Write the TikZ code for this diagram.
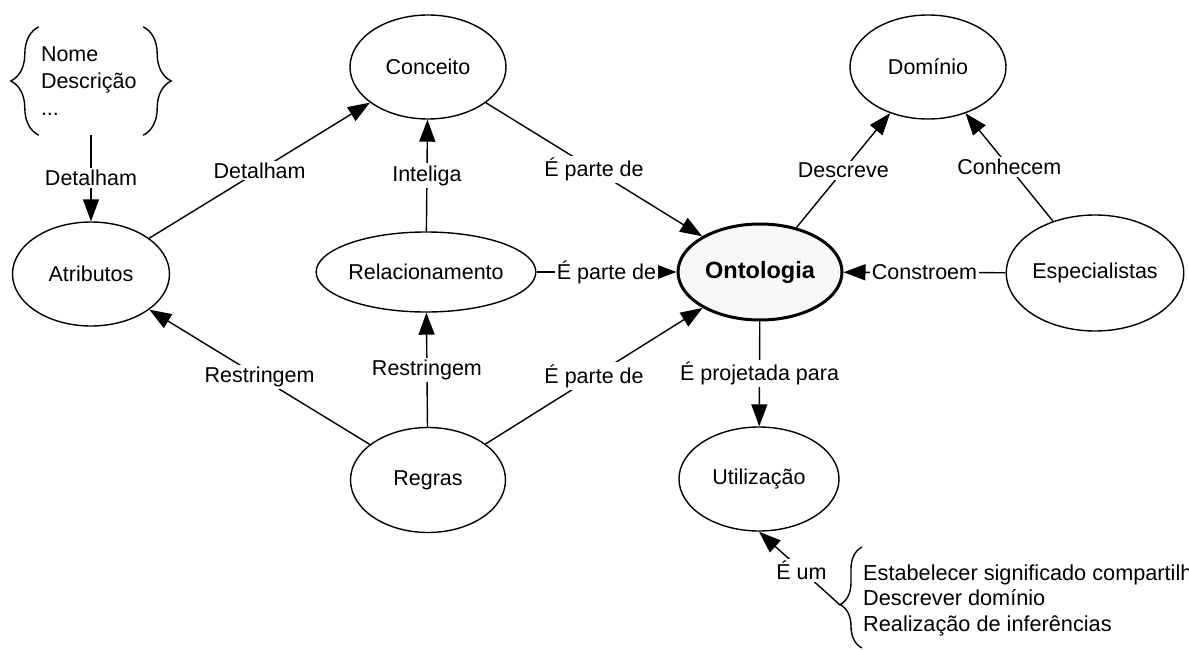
\documentclass[tikz,border=0pt]{standalone}
\usepackage{fontspec}
\setmainfont{Liberation Sans}
\usetikzlibrary{shapes.geometric,arrows.meta,decorations.pathreplacing}
\begin{document}
\begin{tikzpicture}[x=1pt,y=-1pt,
  every node/.style={font=\fontsize{21.5}{26}\selectfont},
  concept/.style={ellipse, draw, line width=1.4pt, inner sep=0pt},
  arr/.style={line width=1.4pt, -{Triangle[length=22pt,width=16pt]}},
  lbl/.style={fill=white, inner sep=2pt},
  brc/.style={decorate, line width=1.4pt, decoration={brace, amplitude=#1}}
]
\fill[white] (0,0) rectangle (1189,650);
\clip (0,0) rectangle (1189,650);

\node[concept, minimum width=156pt, minimum height=104pt] (con) at (428,67) {Conceito};
\node[concept, minimum width=156pt, minimum height=104pt] (dom) at (928,67) {Domínio};
\node[concept, minimum width=157pt, minimum height=104pt] (atr) at (91,274) {Atributos};
\node[concept, minimum width=218pt, minimum height=80pt] (rel) at (426,272) {Relacionamento};
\node[concept, line width=3pt, fill=black!3, minimum width=164pt, minimum height=96pt,
      font=\bfseries\fontsize{23.5}{28}\selectfont] (ont) at (760,272) {Ontologia};
\node[concept, minimum width=176pt, minimum height=116pt] (esp) at (1095,273) {Especialistas};
\node[concept, minimum width=155pt, minimum height=105pt] (reg) at (428,480) {Regras};
\node[concept, minimum width=160pt, minimum height=104pt] (uti) at (759,479) {Utilização};

\node[inner sep=0pt, minimum width=104pt, minimum height=108pt, text width=100pt, align=left,
      font=\fontsize{21.5}{27}\selectfont] (attrs) at (91,81) {Nome\\Descrição\\...};
\draw[brc=28pt] (attrs.south west) -- (attrs.north west);
\draw[brc=28pt] (attrs.north east) -- (attrs.south east);

\node[anchor=west, align=left, inner sep=0pt, font=\fontsize{21.7}{25.5}\selectfont] (uses) at (863,600)
  {Estabelecer significado compartilhado\\Descrever domínio\\Realização de inferências};
\draw[decorate, line width=1.4pt, decoration={brace, amplitude=22pt, aspect=0.43}] (862,648) -- (862,547);
\coordinate (bt) at (840,605);

\draw[arr] (attrs) -- node[lbl]{Detalham} (atr);
\draw[arr] (atr) -- node[lbl]{Detalham} (con);
\draw[arr] (rel) -- node[lbl]{Inteliga} (con);
\draw[arr] (con) -- node[lbl]{É parte de} (ont);
\draw[arr] (rel) -- node[lbl]{É parte de} (ont);
\draw[arr] (esp) -- node[lbl]{Constroem} (ont);
\draw[arr] (ont) -- node[lbl]{Descreve} (dom);
\draw[arr] (esp) -- node[lbl]{Conhecem} (dom);
\draw[arr] (reg) -- node[lbl]{Restringem} (atr);
\draw[arr] (reg) -- node[lbl]{Restringem} (rel);
\draw[arr] (reg) -- node[lbl]{É parte de} (ont);
\draw[arr] (ont) -- node[lbl]{É projetada para} (uti);
\draw[arr] (bt) -- node[lbl, pos=0.476]{É um} (uti.south);
\end{tikzpicture}
\end{document}
